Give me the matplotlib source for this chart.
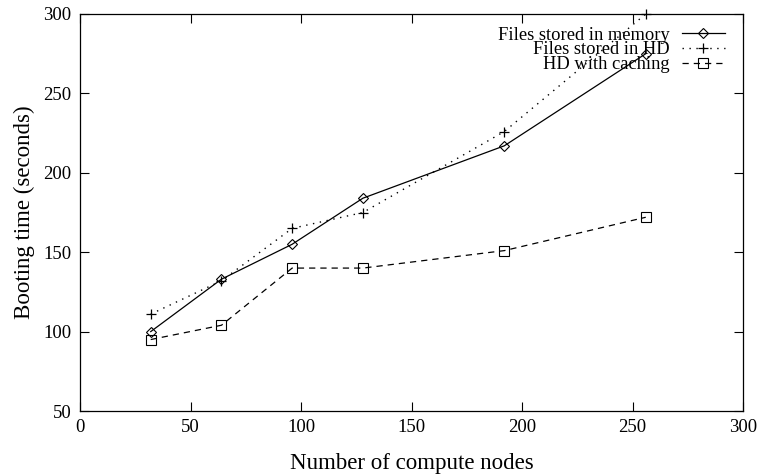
import matplotlib
matplotlib.use("Agg")
import matplotlib.pyplot as plt

nodes = [32, 64, 96, 128, 192, 256]
mem = [100, 133, 155, 184, 217, 275]
hd = [111, 132, 165, 175, 226, 300]
cache = [95, 104, 140, 140, 151, 172]
labels = ["Files stored in memory", "Files stored in HD", "HD with caching"]
xticks = [0, 50, 100, 150, 200, 250, 300]
yticks = [50, 100, 150, 200, 250, 300]

plt.rcParams['font.family'] = ['Liberation Serif', 'DejaVu Serif']
fig = plt.figure(figsize=(7.57, 4.76), dpi=100)
ax = fig.add_axes([80/757, 1-411/476, (743-80)/757, (411-14)/476])

ax.plot(nodes, mem, color='black', lw=0.9, ls='-', marker='D', markersize=5.5,
        markerfacecolor='none', markeredgewidth=0.8, label=labels[0], clip_on=False)
ax.plot(nodes, hd, color='black', lw=1.0, ls=(0, (1, 4)), marker='+', markersize=7.5,
        markeredgewidth=0.9, label=labels[1], clip_on=False)
ax.plot(nodes, cache, color='black', lw=0.9, ls=(0, (5, 4)), marker='s', markersize=6.5,
        markerfacecolor='none', markeredgewidth=0.8, label=labels[2], clip_on=False)

ax.set_xlim(0, 300)
ax.set_ylim(50, 300)
ax.set_xticks(xticks)
ax.set_yticks(yticks)
ax.tick_params(direction='in', length=6.5, width=0.8, top=True, right=True,
               labelsize=13.5, pad=6)
for s in ax.spines.values():
    s.set_linewidth(0.9)

ax.set_xlabel("Number of compute nodes", fontsize=16.5, labelpad=12)
ax.set_ylabel("Booting time (seconds)", fontsize=16.5, labelpad=6)

leg = ax.legend(loc='upper right', bbox_to_anchor=(1.0, 1.015), markerfirst=False,
                frameon=False, fontsize=13.3, handlelength=2.3, handletextpad=0.65,
                labelspacing=-0.12, borderaxespad=0.9, borderpad=0.1)

fig.savefig("out.png", dpi=100)
